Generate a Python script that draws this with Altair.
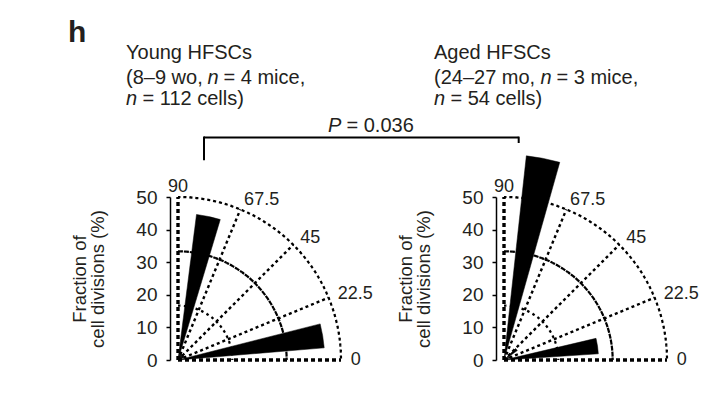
import math
import altair as alt
import pandas as pd

# ---------------- data ----------------
young_angle = [9.5, 28, 38, 48, 58, 68, 78]      # bin centre (deg)
young_frac = [45, 2, 2, 2, 2, 2, 45]              # fraction of divisions (%)
aged_angle = [8.5, 25, 40, 60, 79]
aged_frac = [29, 2, 5, 1, 63]
bin_width = 9.5                                    # deg

grid_angles = [0, 22.5, 45, 67.5, 90]
grid_labels = ["0", "22.5", "45", "67.5", "90"]
ring_radii = [50 / 3, 100 / 3, 50]
y_ticks = [0, 10, 20, 30, 40, 50]
r_max = 50

# ---------------- style ----------------
FONT = "Liberation Sans"
INK = "#231f20"
R = 163          # plot side in px (0..50 %)
TXT = 20

dummy = pd.DataFrame({"k": [0]})

xs = alt.Scale(domain=[0, r_max], nice=False, zero=True)
ys = alt.Scale(domain=[0, r_max], nice=False, zero=True)
rs = alt.Scale(type="linear", domain=[0, r_max], range=[0, R], zero=True)

yax = alt.Axis(
    values=y_ticks, title=["Fraction of", "cell divisions (%)"],
    offset=8, tickSize=4, labelPadding=9, titlePadding=28, grid=False,
)


def txt(s, x, y, size=TXT, italic=False, bold=False):
    kw = {}
    if italic:
        kw["fontStyle"] = "italic"
    if bold:
        kw["fontWeight"] = "bold"
    return alt.Chart(dummy).mark_text(
        text=s, align="left", baseline="alphabetic", fontSize=size, font=FONT,
        color=INK, **kw
    ).encode(x=alt.value(x), y=alt.value(y))


def panel(angles, fracs, annotations):
    wedges = pd.DataFrame({"angle": angles, "frac": fracs})
    grid = pd.DataFrame({"a": grid_angles, "lab": grid_labels})
    rings = pd.DataFrame({"r": ring_radii})

    spoke_base = alt.Chart(grid).transform_calculate(
        x0="0", y0="0",
        ex=f"{r_max}*cos(datum.a*PI/180)",
        ey=f"{r_max}*sin(datum.a*PI/180)",
        lx="53*cos(datum.a*PI/180)",
        ly="53*sin(datum.a*PI/180)",
    )

    spokes = spoke_base.transform_filter("datum.a % 90 != 0").mark_rule(
        stroke="black", strokeWidth=2.4, strokeDash=[3, 3]
    ).encode(
        x=alt.X("x0:Q", scale=xs, axis=None),
        y=alt.Y("y0:Q", scale=ys, axis=yax),
        x2="ex:Q", y2="ey:Q",
    )

    edges = spoke_base.transform_filter("datum.a % 90 == 0").mark_rule(
        stroke="black", strokeWidth=3.4, strokeDash=[4, 3]
    ).encode(
        x=alt.X("x0:Q", scale=xs, axis=None),
        y=alt.Y("y0:Q", scale=ys, axis=yax),
        x2="ex:Q", y2="ey:Q",
    )

    ring_layer = alt.Chart(rings).mark_arc(
        filled=False, stroke="black", strokeWidth=2.2, strokeDash=[2.5, 3.5]
    ).encode(
        x=alt.XDatum(0, scale=xs, axis=None),
        y=alt.YDatum(0, scale=ys, axis=yax),
        theta=alt.value(0),
        theta2=alt.value(math.pi / 2),
        radius=alt.Radius("r:Q", scale=rs),
        radius2=alt.Radius2("r:Q"),
    )

    wedge_layer = alt.Chart(wedges).transform_calculate(
        t1=f"(90 - datum.angle - {bin_width / 2})*PI/180",
        t2=f"(90 - datum.angle + {bin_width / 2})*PI/180",
    ).mark_arc(color="black", stroke="black", strokeWidth=0.5).encode(
        x=alt.XDatum(0, scale=xs, axis=None),
        y=alt.YDatum(0, scale=ys, axis=yax),
        theta=alt.Theta("t1:Q", scale=None, stack=False),
        theta2="t2:Q",
        radius=alt.Radius("frac:Q", scale=rs),
    )

    labels = spoke_base.transform_filter("datum.a < 90").mark_text(
        align="left", baseline="middle", fontSize=18, font=FONT, color=INK
    ).encode(
        x=alt.X("lx:Q", scale=xs, axis=None),
        y=alt.Y("ly:Q", scale=ys, axis=yax),
        text="lab:N",
    )
    label90 = spoke_base.transform_filter("datum.a == 90").mark_text(
        align="center", baseline="middle", fontSize=18, font=FONT, color=INK
    ).encode(
        x=alt.X("lx:Q", scale=xs, axis=None),
        y=alt.Y("ly:Q", scale=ys, axis=yax),
        text="lab:N",
    )

    return alt.layer(
        spokes, edges, ring_layer, wedge_layer, labels, label90, *annotations
    ).properties(width=R, height=R)


left_ann = [
    txt("h", -110, -155, size=30, bold=True),
    txt("Young HFSCs", -52, -138),
    txt("(8–9 wo,", -52, -113.5),
    txt("n", 29.5, -113.5, italic=True),
    txt("= 4 mice,", 45.5, -113.5),
    txt("n", -52, -92, italic=True),
    txt("= 112 cells)", -35.5, -92),
    txt("P", 150, -65, italic=True),
    txt("= 0.036", 168.5, -65),
    alt.Chart(dummy).mark_rule(color="black", strokeWidth=2).encode(
        x=alt.value(26), x2=alt.value(340.7), y=alt.value(-59.4)),
    alt.Chart(dummy).mark_rule(color="black", strokeWidth=2).encode(
        x=alt.value(26), y=alt.value(-60.4), y2=alt.value(-36.7)),
    alt.Chart(dummy).mark_rule(color="black", strokeWidth=2).encode(
        x=alt.value(340.7), y=alt.value(-60.4), y2=alt.value(-54)),
]

right_ann = [
    txt("Aged HFSCs", -70, -138),
    txt("(24–27 mo,", -70, -113.5),
    txt("n", 36.5, -113.5, italic=True),
    txt("= 3 mice,", 52.5, -113.5),
    txt("n", -70, -92, italic=True),
    txt("= 54 cells)", -53.5, -92),
]

left = panel(young_angle, young_frac, left_ann)
right = panel(aged_angle, aged_frac, right_ann)

chart = alt.hconcat(left, right, spacing=163, bounds="flush").properties(
    padding={"left": 60, "top": 10, "right": 0, "bottom": 0}
).configure_view(stroke=None).configure_axis(
    labelFont=FONT, titleFont=FONT, labelFontSize=19, titleFontSize=18.5,
    titleFontWeight="normal", labelColor=INK, titleColor=INK,
    domainColor="black", tickColor="black", domainWidth=1.5, tickWidth=1.5,
    titleLineHeight=18.5,
)

chart.save("out.html", embed_options={"renderer": "svg", "actions": False})
